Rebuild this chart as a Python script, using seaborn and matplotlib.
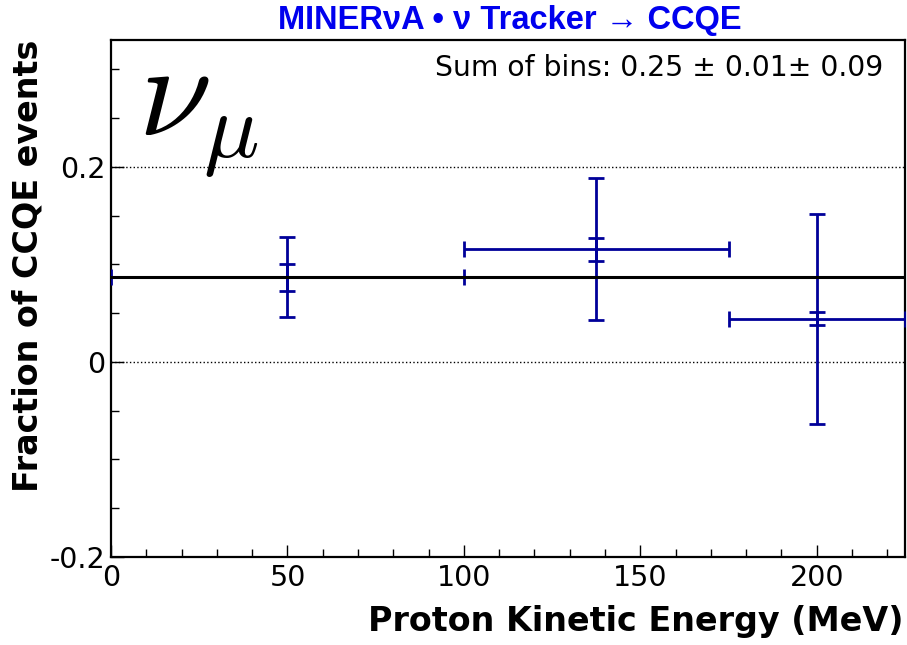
import pandas as pd
import matplotlib
matplotlib.use("Agg")
import matplotlib.pyplot as plt
import seaborn as sns
from matplotlib.ticker import MultipleLocator

# values
bin_low = [0, 100, 175]
bin_high = [100, 175, 225]
fraction = [0.0867, 0.1157, 0.0443]
stat_err = [0.0137, 0.0118, 0.0068]
total_err = [0.0411, 0.0730, 0.1076]

# flat line across the full range
flat_x = [0, 225]
flat_y = [0.0867, 0.0867]

title = "MINER\u03bdA \u2022 \u03bd Tracker \u2192 CCQE"
sum_text = "Sum of bins: 0.25 \u00b1 0.01\u00b1 0.09"
xlabel = "Proton Kinetic Energy (MeV)"
ylabel = "Fraction of CCQE events"

df = pd.DataFrame({"low": bin_low, "high": bin_high, "frac": fraction,
                   "stat": stat_err, "tot": total_err})
df["center"] = (df["low"] + df["high"]) / 2
df["half"] = (df["high"] - df["low"]) / 2

sns.set_theme(style="ticks")
plt.rcParams["font.family"] = ["DejaVu Sans"]
plt.rcParams["mathtext.fontset"] = "cm"

fig = plt.figure(figsize=(9.07, 6.45), dpi=100)
ax = fig.add_axes([111 / 907, 1 - 557 / 645, 794 / 907, 517 / 645])

pt_color = "#000099"

# total error with x bin widths
ax.errorbar(df["center"], df["frac"], xerr=df["half"], yerr=df["tot"],
            fmt="none", ecolor=pt_color, elinewidth=2, capsize=6, capthick=2, zorder=3)
# stat-only caps
ax.errorbar(df["center"], df["frac"], yerr=df["stat"],
            fmt="none", ecolor=pt_color, elinewidth=2, capsize=6, capthick=2, zorder=3)

sns.lineplot(x=flat_x, y=flat_y, color="black", linewidth=2.2, ax=ax, zorder=4)

ax.set_xlim(0, 225)
ax.set_ylim(-0.2, 0.33)

ax.xaxis.set_major_locator(MultipleLocator(50))
ax.xaxis.set_minor_locator(MultipleLocator(10))
ax.yaxis.set_major_locator(MultipleLocator(0.2))
ax.yaxis.set_minor_locator(MultipleLocator(0.05))
ax.yaxis.set_major_formatter(plt.FuncFormatter(lambda v, p: f"{v:g}"))

ax.tick_params(which="both", direction="in", top=False, right=False,
               labelsize=20.5, color="black", labelcolor="black")
ax.tick_params(which="major", length=9, width=1)
ax.tick_params(which="minor", length=6, width=1)
ax.tick_params(axis="x", pad=5)
ax.tick_params(axis="y", pad=4)

ax.yaxis.grid(True, which="major", linestyle=":", color="black", linewidth=1)
for s in ax.spines.values():
    s.set_color("black")
    s.set_linewidth(1.6)

ax.text(0.972, 0.946, sum_text, transform=ax.transAxes, ha="right", va="center",
        fontsize=20.3, color="black")

ax.text(0.034, 0.816, r"$\nu_{\mu}$", transform=ax.transAxes, ha="left",
        va="baseline", fontsize=95, color="black")

fig.text(510 / 907, 1 - 20 / 645, title, ha="center", va="center",
         fontsize=23.5, fontweight="bold", color="#0000ee",
         family=["Liberation Sans", "DejaVu Sans"])
fig.text(903 / 907, 1 - 622 / 645, xlabel, ha="right", va="center",
         fontsize=24, fontweight="bold", color="black")
fig.text(28 / 907, 1 - 40 / 645, ylabel, ha="center", va="top", rotation=90,
         fontsize=24, fontweight="bold", color="black")

fig.savefig("out.png", dpi=100)
